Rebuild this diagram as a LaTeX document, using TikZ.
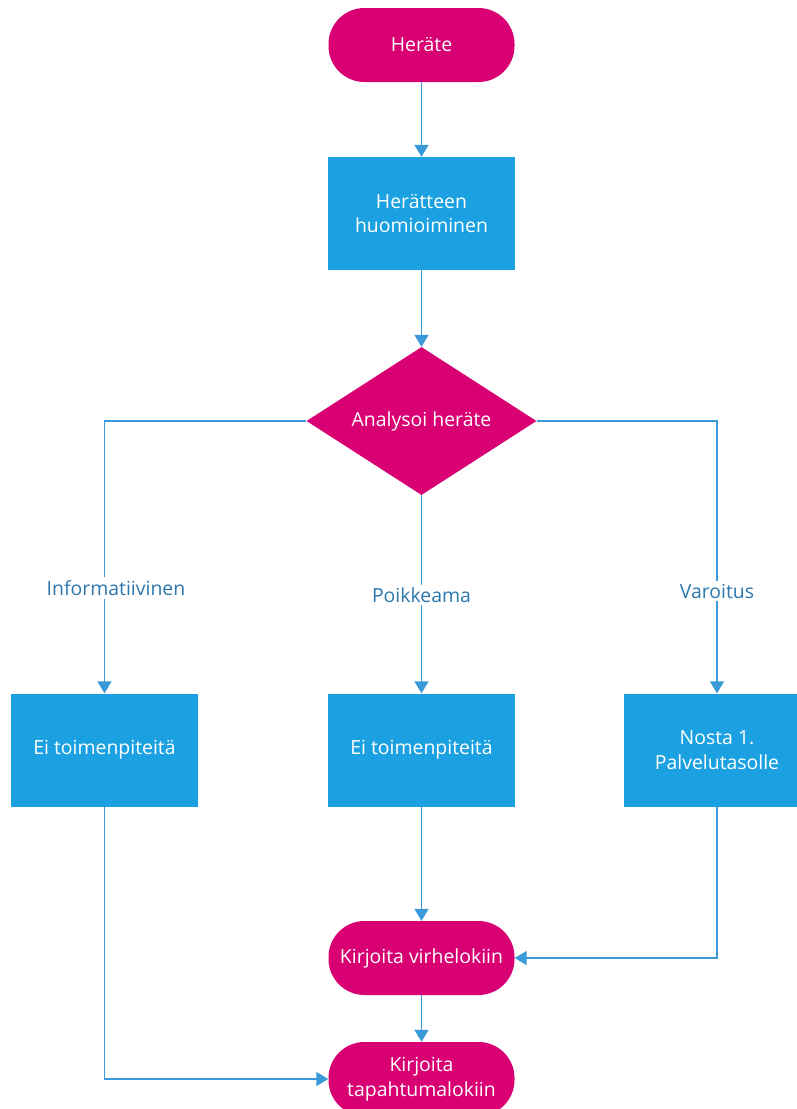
\documentclass[tikz,border=0pt]{standalone}
\usepackage{fontspec}
\setmainfont{Open Sans}
\usetikzlibrary{shapes.geometric,arrows.meta}
\definecolor{flowmag}{HTML}{D80073}
\definecolor{flowblue}{HTML}{1BA1E2}
\definecolor{flowline}{HTML}{3A9AD9}
\definecolor{flowlabel}{HTML}{2C78AE}
\begin{document}
\begin{tikzpicture}[x=1bp,y=-1bp,
  every node/.style={font=\fontsize{19.5}{25}\selectfont, align=center},
  term/.style={fill=flowmag, text=white, rounded corners=36bp,
    minimum width=186bp, minimum height=74bp, inner sep=0pt},
  proc/.style={fill=flowblue, text=white,
    minimum width=187bp, minimum height=113bp, inner sep=0pt},
  decide/.style={diamond, fill=flowmag, text=white, aspect=1.55,
    minimum width=230bp, minimum height=148bp, inner sep=0pt},
  flow/.style={draw=flowline, line width=1.4bp,
    -{Triangle[length=12bp,width=14bp]}},
  branch/.style={text=flowlabel, fill=white, inner sep=3bp}]

% page frame
\clip (0,0) rectangle (797,1109);
\fill[white] (0,0) rectangle (797,1109);

% steps
\node[term]   (start)    at (421.5,45)   {Heräte};
\node[proc]   (notice)   at (421.5,213.5){Herätteen\\huomioiminen};
\node[decide] (analyse)  at (421.5,421)  {Analysoi heräte};
\node[proc]   (noneA)    at (104.5,750)  {Ei toimenpiteitä};
\node[proc]   (noneB)    at (421.5,750)  {Ei toimenpiteitä};
\node[proc]   (raise)    at (717,750)    {Nosta 1.\\Palvelutasolle};
\node[term]   (errlog)   at (421.5,958)  {Kirjoita virhelokiin};
\node[term]   (eventlog) at (421.5,1079) {Kirjoita\\tapahtumalokiin};

% connectors
\draw[flow] (start) -- (notice);
\draw[flow] (notice) -- (analyse);
\draw[flow] (analyse.west) -| (noneA.north);
\draw[flow] (analyse.south) -- (noneB.north);
\draw[flow] (analyse.east) -| (raise.north);
\draw[flow] (noneB) -- (errlog);
\draw[flow] (raise.south) |- (errlog.east);
\draw[flow] (errlog) -- (eventlog);
\draw[flow] (noneA.south) |- (eventlog.west);

% branch labels
\node[branch] (infoLbl) at (116,588) {Informatiivinen};
\node[branch] (devLbl)  at (421.5,595) {Poikkeama};
\node[branch] (warnLbl) at (717,591) {Varoitus};
\end{tikzpicture}
\end{document}
